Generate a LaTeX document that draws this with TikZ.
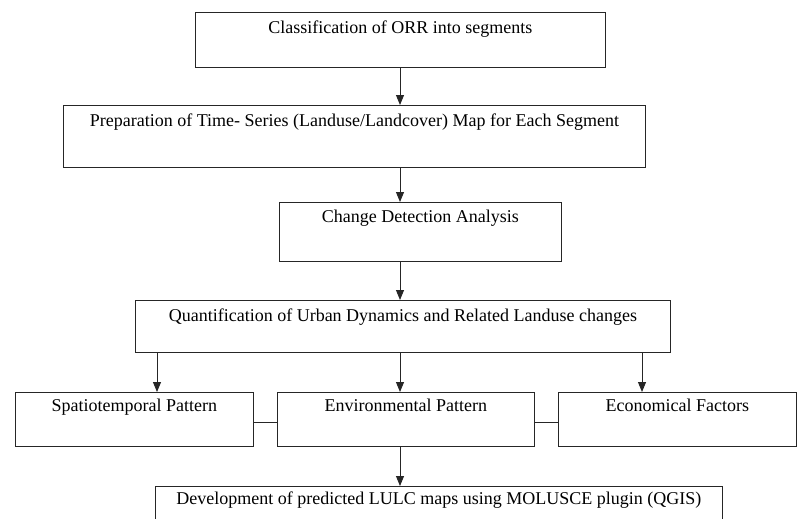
\documentclass[tikz,border=0pt]{standalone}
\usepackage{fontspec}
\setmainfont{Liberation Serif}
\usetikzlibrary{arrows.meta}
\begin{document}
\begin{tikzpicture}[x=1pt,y=-1pt,
  box/.style={draw=black!85, line width=0.9pt, inner sep=0pt, rectangle, anchor=north west,
    font=\fontsize{18}{21}\selectfont},
  arr/.style={draw=black!85, line width=0.9pt, -{Triangle[length=10pt,width=8pt]}},
  link/.style={draw=black!85, line width=0.9pt}]
\useasboundingbox (0,0) rectangle (798,519);
\clip (0,0) rectangle (798,519);
\fill[white] (0,0) rectangle (798,519);
% boxes
\node[box, minimum width=410pt, text height=21pt, text depth=34pt] (b1) at (195,12) {Classification of ORR into segments};
\node[box, minimum width=582pt, text height=21pt, text depth=41pt] (b2) at (63,105) {Preparation of Time- Series (Landuse/Landcover) Map for Each Segment};
\node[box, minimum width=282pt, text height=20pt, text depth=39pt] (b3) at (279,202) {Change Detection Analysis};
\node[box, minimum width=535pt, text height=21pt, text depth=31pt] (b4) at (135,300) {Quantification of Urban Dynamics and Related Landuse changes};
\node[box, minimum width=238pt, text height=19pt, text depth=35pt] (s1) at (15,392) {Spatiotemporal Pattern};
\node[box, minimum width=257pt, text height=19pt, text depth=35pt] (s2) at (277,392) {Environmental Pattern};
\node[box, minimum width=238pt, text height=19pt, text depth=35pt] (s3) at (558,392) {Economical Factors};
\node[box, minimum width=567pt, text height=18pt, text depth=42pt] (b5) at (155,486) {Development of predicted LULC maps using MOLUSCE plugin (QGIS)};
% connectors
\draw[arr] (b1.south -| 400,0) -- (b2.north -| 400,0);
\draw[arr] (b2.south -| 400,0) -- (b3.north -| 400,0);
\draw[arr] (b3.south -| 400,0) -- (b4.north -| 400,0);
\draw[arr] (b4.south -| 157,0) -- (s1.north -| 157,0);
\draw[arr] (b4.south -| 400,0) -- (s2.north -| 400,0);
\draw[arr] (b4.south -| 642,0) -- (s3.north -| 642,0);
\draw[arr] (s2.south -| 400,0) -- (b5.north -| 400,0);
\draw[link] ([yshift=-3pt]s1.east) -- ([yshift=-3pt]s2.west);
\draw[link] ([yshift=-3pt]s2.east) -- ([yshift=-3pt]s3.west);
\end{tikzpicture}
\end{document}
